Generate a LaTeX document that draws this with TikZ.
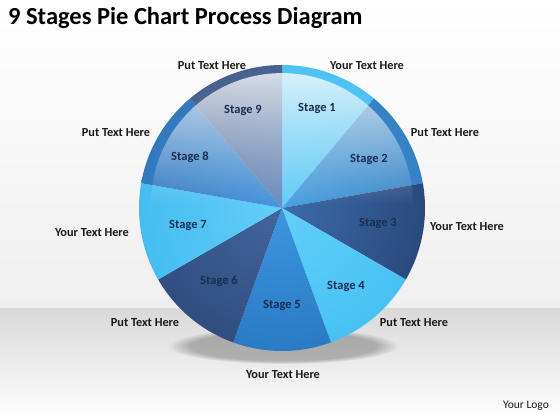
\documentclass[tikz,border=0pt]{standalone}
\usepackage{fontspec}
\setmainfont{Carlito}
\usetikzlibrary{fadings}
\definecolor{bgA}{HTML}{EFEFEF}
\definecolor{bgB}{HTML}{D9D9D9}
\definecolor{iA}{HTML}{66CEF7}\definecolor{oA}{HTML}{33B4EE}
\definecolor{iB}{HTML}{4CA2E2}\definecolor{oB}{HTML}{1B5FA3}
\definecolor{iC}{HTML}{3E6BAB}\definecolor{oC}{HTML}{13284D}
\definecolor{iD}{HTML}{62CFF9}\definecolor{oD}{HTML}{2DB4ED}
\definecolor{iE}{HTML}{3D96DE}\definecolor{oE}{HTML}{155FA8}
\definecolor{iF}{HTML}{43669E}\definecolor{oF}{HTML}{1C3460}
\definecolor{iG}{HTML}{64CEF9}\definecolor{oG}{HTML}{26ACE9}
\definecolor{iH}{HTML}{4896DE}\definecolor{oH}{HTML}{1A5A9C}
\definecolor{iI}{HTML}{6E8FC4}\definecolor{oI}{HTML}{1E3357}
\definecolor{stagetext}{HTML}{1B2D52}
\definecolor{labeltext}{HTML}{1A1A1A}
\tikzfading[name=glossfade, top color=transparent!22, bottom color=transparent!100, middle color=transparent!100]
\tikzset{
  stagelabel/.style={font=\bfseries\fontsize{12.5}{14}\selectfont, text=stagetext, inner sep=0pt},
  outerlabel/.style={font=\bfseries\fontsize{12.3}{14}\selectfont, text=labeltext, inner sep=0pt},
}
\begin{document}
\begin{tikzpicture}[x=1pt,y=1pt]
\useasboundingbox (0,0) rectangle (560,-420);
% background
\fill[top color=white, bottom color=bgA] (0,0) rectangle (560,-308);
\fill[top color=bgB, bottom color=white] (0,-308) rectangle (560,-420);
% shadow
\fill[black, opacity=0.25, path fading=circle with fuzzy edge 20 percent] (283,-346) ellipse[x radius=115pt, y radius=18pt];
% wedges
\coordinate (c) at (282,-208);
\foreach \s/\ic/\oc in {1/iA/oA,2/iB/oB,3/iC/oC,4/iD/oD,5/iE/oE,6/iF/oF,7/iG/oG,8/iH/oH,9/iI/oI}{
  \pgfmathsetmacro{\a}{90-40*(\s-1)}
  \pgfmathsetmacro{\b}{\a-40}
  \begin{scope}
    \clip (c) -- ++(\a:143pt) arc[start angle=\a, end angle=\b, radius=143pt] -- cycle;
    \shade[inner color=\ic, outer color=\oc] (c) circle[radius=290pt];
  \end{scope}
}
% gloss
\fill[white, path fading=glossfade] (282,-204) circle[radius=131pt];
% stage labels
\node[stagelabel] (st1) at (317,-108) {Stage 1};
\node[stagelabel] (st2) at (369,-159) {Stage 2};
\node[stagelabel] (st3) at (378,-223) {Stage 3};
\node[stagelabel] (st4) at (346,-286) {Stage 4};
\node[stagelabel] (st5) at (282,-305) {Stage 5};
\node[stagelabel] (st6) at (219,-281) {Stage 6};
\node[stagelabel] (st7) at (188,-225) {Stage 7};
\node[stagelabel] (st8) at (190,-157) {Stage 8};
\node[stagelabel] (st9) at (243,-110) {Stage 9};
% outer labels
\node[outerlabel] (l1) at (367,-66) {Your Text Here};
\node[outerlabel] (l2) at (445,-133) {Put Text Here};
\node[outerlabel] (l3) at (467,-227) {Your Text Here};
\node[outerlabel] (l4) at (414,-323) {Put Text Here};
\node[outerlabel] (l5) at (283,-375) {Your Text Here};
\node[outerlabel] (l6) at (145,-323) {Put Text Here};
\node[outerlabel] (l7) at (92,-233) {Your Text Here};
\node[outerlabel] (l8) at (116,-133) {Put Text Here};
\node[outerlabel] (l9) at (212,-66) {Put Text Here};
% title and logo
\node[anchor=west, font=\bfseries\fontsize{24.5}{28}\selectfont, text=black, inner sep=0pt] (title) at (8,-18) {9 Stages Pie Chart Process Diagram};
\node[font=\fontsize{11.5}{13}\selectfont, text=labeltext, inner sep=0pt] (logo) at (526,-406) {Your Logo};
\end{tikzpicture}
\end{document}
